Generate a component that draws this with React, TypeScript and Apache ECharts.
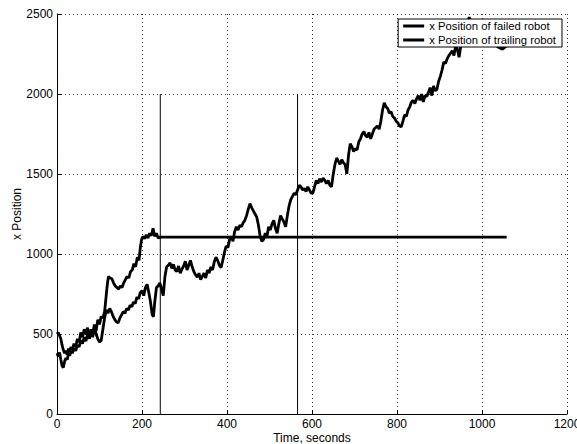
import React, { useEffect, useRef } from "react";
import * as echarts from "echarts";

const xTicks = [0, 200, 400, 600, 800, 1000, 1200];
const yTicks = [0, 500, 1000, 1500, 2000, 2500];

// x Position of failed robot: [time, position]
const failedRobot: [number, number][] = [
  [0, 380], [3, 360], [6, 385], [9, 340], [12, 300], [15, 290], [18, 330], [21, 350],
  [24, 340], [27, 375], [30, 365], [33, 395], [36, 380], [40, 410], [44, 395], [48, 430],
  [52, 420], [56, 460], [60, 440], [64, 480], [68, 455], [72, 500], [76, 470], [80, 530],
  [84, 490], [88, 560], [92, 520], [96, 590], [100, 560], [104, 610], [108, 600], [112, 640],
  [115, 720], [118, 800], [121, 860], [125, 850], [129, 845], [133, 820], [137, 800],
  [141, 790], [145, 780], [149, 800], [153, 790], [157, 820], [161, 840], [165, 860],
  [169, 850], [173, 890], [177, 900], [181, 940], [185, 920], [189, 980], [193, 960],
  [196, 1040], [199, 1090], [202, 1110], [206, 1095], [210, 1120], [214, 1100], [218, 1130],
  [222, 1115], [226, 1160], [230, 1110], [234, 1130], [238, 1100], [243, 1106], [1058, 1106],
];

// x Position of trailing robot: [time, position]
const trailingRobot: [number, number][] = [
  [0, 500], [3, 510], [6, 490], [9, 470], [12, 430], [15, 400], [18, 380], [21, 395],
  [24, 370], [27, 410], [30, 390], [33, 420], [36, 400], [40, 440], [44, 420], [48, 470],
  [52, 450], [56, 510], [60, 480], [64, 530], [68, 500], [72, 540], [76, 470], [80, 520],
  [84, 480], [88, 550], [92, 500], [96, 470], [100, 450], [104, 460], [108, 530], [112, 600],
  [116, 650], [120, 630], [124, 660], [128, 640], [132, 610], [136, 590], [140, 575],
  [144, 570], [148, 600], [152, 620], [156, 640], [160, 630], [164, 660], [168, 650],
  [172, 680], [176, 670], [180, 700], [184, 690], [188, 730], [192, 720], [196, 760],
  [200, 770], [204, 740], [208, 790], [212, 810], [216, 760], [220, 700], [224, 620],
  [227, 608], [230, 700], [234, 790], [238, 800], [242, 820], [246, 780], [250, 740],
  [254, 860], [258, 920], [262, 930], [266, 945], [270, 910], [274, 935], [278, 900],
  [282, 890], [286, 925], [290, 880], [294, 905], [298, 925], [302, 955], [306, 900],
  [310, 930], [314, 960], [318, 920], [322, 890], [326, 870], [330, 855], [334, 880],
  [338, 840], [342, 860], [346, 880], [350, 850], [354, 900], [358, 880], [362, 920],
  [366, 900], [370, 950], [374, 980], [378, 960], [382, 930], [386, 915], [390, 960],
  [394, 1010], [398, 1050], [402, 1040], [406, 1090], [410, 1110], [414, 1080], [418, 1140],
  [422, 1170], [426, 1150], [430, 1180], [434, 1170], [438, 1195], [442, 1210], [446, 1240],
  [450, 1280], [454, 1315], [458, 1290], [462, 1270], [466, 1250], [470, 1230], [474, 1180],
  [478, 1110], [482, 1080], [486, 1090], [490, 1130], [494, 1110], [498, 1170], [502, 1150],
  [506, 1190], [510, 1210], [514, 1160], [518, 1130], [522, 1190], [526, 1240], [530, 1220],
  [534, 1200], [538, 1170], [542, 1240], [546, 1300], [550, 1340], [554, 1360], [558, 1380],
  [562, 1370], [566, 1400], [570, 1430], [574, 1420], [578, 1400], [582, 1410], [586, 1390],
  [590, 1420], [594, 1400], [598, 1380], [602, 1380], [606, 1420], [610, 1460], [614, 1440],
  [618, 1470], [622, 1450], [626, 1475], [630, 1460], [634, 1440], [638, 1460], [642, 1430],
  [646, 1420], [650, 1500], [654, 1560], [658, 1600], [662, 1580], [666, 1560], [670, 1590],
  [674, 1570], [678, 1560], [682, 1500], [686, 1620], [690, 1690], [694, 1670], [698, 1640],
  [702, 1660], [706, 1650], [710, 1700], [714, 1720], [718, 1750], [722, 1765], [726, 1740],
  [730, 1730], [734, 1760], [738, 1720], [742, 1750], [746, 1780], [750, 1790], [754, 1800],
  [758, 1780], [762, 1830], [766, 1900], [770, 1945], [774, 1920], [778, 1910], [782, 1880],
  [786, 1890], [790, 1860], [794, 1850], [798, 1830], [802, 1820], [806, 1800], [810, 1795],
  [814, 1830], [818, 1870], [822, 1860], [826, 1900], [830, 1920], [834, 1950], [838, 1960],
  [842, 1940], [846, 1970], [850, 1990], [854, 1960], [858, 2000], [862, 1950], [866, 1990],
  [870, 1985], [874, 2010], [878, 2040], [882, 1990], [886, 2050], [890, 2020], [894, 2030],
  [898, 2080], [902, 2110], [906, 2150], [910, 2200], [914, 2190], [918, 2220], [922, 2240],
  [926, 2255], [930, 2270], [934, 2240], [938, 2300], [942, 2280], [946, 2230], [950, 2300],
  [954, 2340], [958, 2380], [962, 2420], [966, 2450], [970, 2480], [974, 2440], [980, 2420],
  [990, 2400], [1000, 2380], [1010, 2350], [1020, 2330], [1030, 2310], [1040, 2290],
  [1048, 2280], [1058, 2300],
];

// vertical event markers: time and height
const markerTimes = [243, 566];
const markerHeight = 2000;

const FONT = "'Liberation Sans', Arial, Helvetica, sans-serif";

export default function App() {
  const ref = useRef<HTMLDivElement>(null);

  useEffect(() => {
    if (!ref.current) return;
    const chart = echarts.init(ref.current, undefined, { renderer: "svg" });

    const markerSeries = markerTimes.map((t, i) => ({
      name: "marker" + i,
      type: "line",
      data: [
        [t, 0],
        [t, markerHeight],
      ],
      symbol: "none",
      lineStyle: { color: "#000", width: 1 },
      silent: true,
      z: 3,
    }));

    const axisCommon = {
      axisLine: { show: true, lineStyle: { color: "#000", width: 1 } },
      axisTick: { show: true, inside: true, length: 4, lineStyle: { color: "#000" } },
      axisLabel: {
        color: "#000",
        fontSize: 12,
        fontFamily: FONT,
        margin: 4,
        formatter: (v: number) => String(v),
      },
      splitLine: {
        show: true,
        lineStyle: { color: "#000", type: [1, 3], width: 1, opacity: 0.8 },
      },
      nameTextStyle: { color: "#000", fontSize: 12, fontFamily: FONT },
      nameLocation: "middle",
      nameMoveOverlap: false,
    };

    chart.setOption({
      animation: false,
      backgroundColor: "#fff",
      grid: {
        left: 57,
        right: 10,
        top: 14,
        bottom: 30,
        containLabel: false,
        outerBoundsMode: "none",
      },
      xAxis: {
        ...axisCommon,
        type: "value",
        min: xTicks[0],
        max: xTicks[xTicks.length - 1],
        interval: xTicks[1] - xTicks[0],
        name: "Time, seconds",
        nameGap: 18,
      },
      yAxis: {
        ...axisCommon,
        type: "value",
        min: yTicks[0],
        max: yTicks[yTicks.length - 1],
        interval: yTicks[1] - yTicks[0],
        name: "x Position",
        nameGap: 34,
      },
      legend: {
        data: [
          { name: "x Position of failed robot", icon: "rect" },
          { name: "x Position of trailing robot", icon: "rect" },
        ],
        orient: "vertical",
        right: 15,
        top: 19,
        z: 20,
        padding: [0, 6, 0, 5],
        itemGap: 0,
        itemWidth: 21,
        itemHeight: 3,
        backgroundColor: "#fff",
        borderColor: "#000",
        borderWidth: 1,
        borderRadius: 0,
        itemStyle: { color: "#000", borderWidth: 0 },
        lineStyle: { width: 0 },
        textStyle: { color: "#000", fontSize: 11.3, fontFamily: FONT, lineHeight: 14 },
        selectedMode: false,
      },
      series: [
        {
          name: "x Position of failed robot",
          type: "line",
          data: failedRobot,
          symbol: "none",
          lineStyle: { color: "#000", width: 2.8 },
          itemStyle: { color: "#000" },
          z: 4,
        },
        {
          name: "x Position of trailing robot",
          type: "line",
          data: trailingRobot,
          symbol: "none",
          lineStyle: { color: "#000", width: 2.8 },
          itemStyle: { color: "#000" },
          z: 4,
        },
        ...markerSeries,
      ],
    });

    return () => chart.dispose();
  }, []);

  return (
    <div
      ref={ref}
      style={{ position: "fixed", left: 0, top: 0, width: 577, height: 444, background: "#fff" }}
    />
  );
}
